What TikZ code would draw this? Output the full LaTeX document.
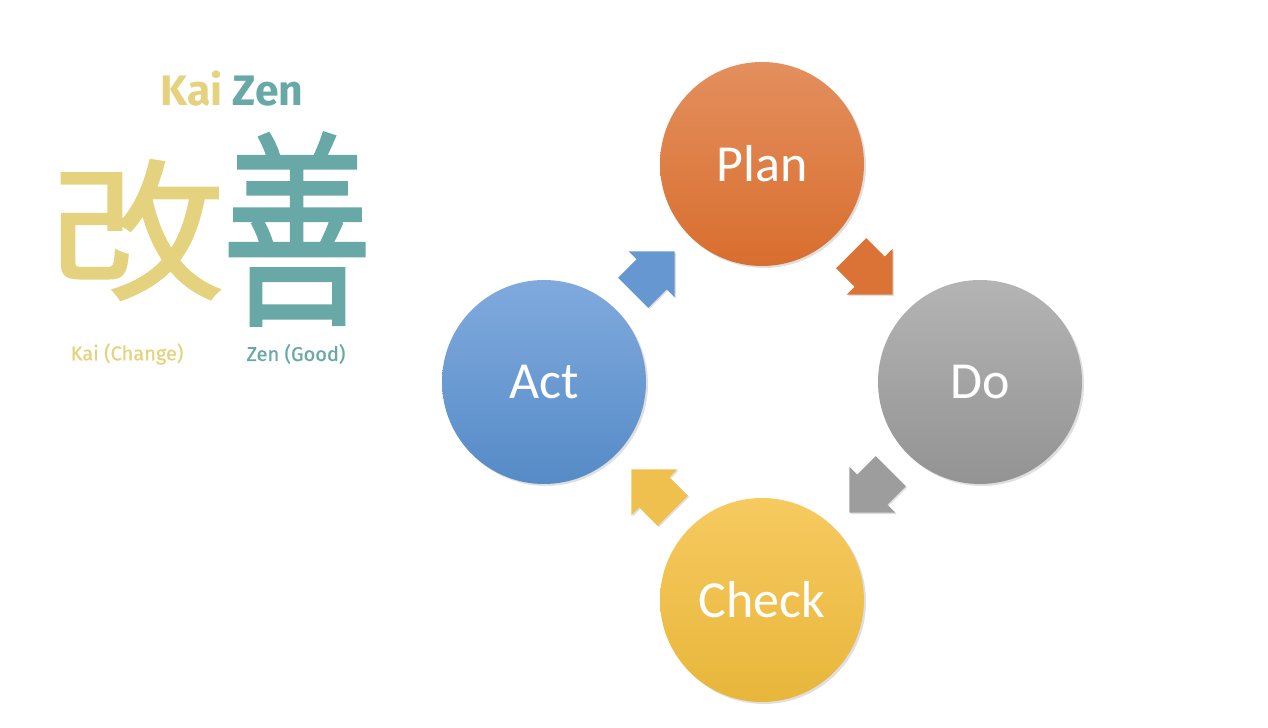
\documentclass[tikz,border=0pt]{standalone}
\usepackage{fontspec}
\setmainfont{Carlito}
\newfontfamily\kzfont{Fira Sans}
\newfontfamily\kzcap[FakeBold=0.8]{Fira Sans}
\newfontfamily\cjk[FakeBold=1.2]{Noto Sans CJK JP}
\usepackage{xcolor}
\usepackage{tikz}
\usetikzlibrary{positioning, shapes.arrows, shadows, calc}
\definecolor{kaiyellow}{RGB}{229,210,126}
\definecolor{zenteal}{RGB}{104,168,166}
\definecolor{plantop}{RGB}{228,143,94}
\definecolor{planbot}{RGB}{216,110,46}
\definecolor{dotop}{RGB}{180,180,180}
\definecolor{dobot}{RGB}{147,147,147}
\definecolor{checktop}{RGB}{247,202,96}
\definecolor{checkbot}{RGB}{231,182,58}
\definecolor{acttop}{RGB}{128,170,222}
\definecolor{actbot}{RGB}{86,139,199}

\begin{document}
\begin{tikzpicture}[
    x=0.75pt, y=0.75pt,
    node distance=163.5pt and 163.5pt,
    phase/.style={
        circle,
        inner sep=0pt,
        minimum size=153pt,
        text=white,
        font=\fontsize{39}{39}\selectfont,
        drop shadow={opacity=0.25, shadow xshift=1.5pt, shadow yshift=-1.5pt}
    },
    turn/.style={
        single arrow,
        inner xsep=0pt,
        inner ysep=15.75pt,
        minimum height=44pt,
        single arrow head extend=8.5pt,
        drop shadow={opacity=0.25, shadow xshift=1pt, shadow yshift=-1pt}
    },
    kanji/.style={inner sep=0pt, font=\cjk\fontsize{114}{114}\selectfont},
    caption/.style={inner sep=0pt, font=\kzcap\fontsize{15}{15}\selectfont}
]
\useasboundingbox (0,0) rectangle (1268,728);

% Kai Zen
\node[inner sep=0pt, font=\kzfont\bfseries\fontsize{32}{32}\selectfont] (title) at (232,639)
    {\textcolor{kaiyellow}{Kai} \textcolor{zenteal}{Zen}};
\node[kanji, text=kaiyellow] (kai) at (137,498) {\scalebox{1.15}[1]{改}};
\node[kanji, text=zenteal, font=\cjk\fontsize{157}{157}\selectfont] (zen) at (297,499) {\scalebox{0.72}[1]{善}};
\node[caption, text=kaiyellow] (kaicap) at (127,374) {Kai (Change)};
\node[caption, text=zenteal] (zencap) at (296,374) {Zen (Good)};

% PDCA cycle
\node[phase, top color=plantop, bottom color=planbot] (plan) at (762,564) {Plan};
\node[phase, top color=dotop, bottom color=dobot, on grid, below right=of plan] (do) {Do};
\node[phase, top color=checktop, bottom color=checkbot, on grid, below left=of do] (check) {Check};
\node[phase, top color=acttop, bottom color=actbot, on grid, above left=of check] (act) {Act};

\node[turn, fill=planbot!85!plantop, rotate=-45] (plando) at ($(plan)!0.47!(do)$) {};
\node[turn, fill=dobot!70!dotop, rotate=-135] (docheck) at ($(do)!0.47!(check)$) {};
\node[turn, fill=checkbot!50!checktop, rotate=135] (checkact) at ($(check)!0.47!(act)$) {};
\node[turn, fill=actbot!60!acttop, rotate=45] (actplan) at ($(act)!0.47!(plan)$) {};

\end{tikzpicture}
\end{document}
